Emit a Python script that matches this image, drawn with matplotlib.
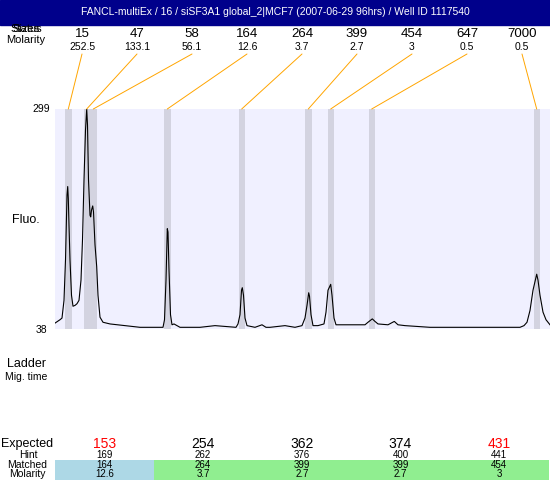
import matplotlib
matplotlib.use("Agg")
import matplotlib.pyplot as plt
from matplotlib.patches import Rectangle, ConnectionPatch

plt.rcParams['font.family'] = ['Liberation Sans', 'DejaVu Sans']

title = "FANCL-multiEx / 16 / siSF3A1 global_2|MCF7 (2007-06-29 96hrs) / Well ID 1117540"

# electropherogram trace (migration units, fluorescence)
trace_time = [0, 5, 7, 9, 10.5, 12, 12.7, 13.3, 14, 15, 16.5, 18, 20, 22, 24, 26, 27.5, 29,
              30.5, 31.7, 32.5, 33.5, 35, 35.7, 36.5, 37.7, 38.5, 40, 41.7, 43, 45, 48, 55,
              70, 85, 108, 109.5, 111, 112.3, 113, 114, 115.5, 117, 119, 125, 145, 160, 181,
              183, 185, 186.5, 187.3, 188.5, 190, 192, 200, 207, 211, 215, 230, 240, 247,
              250, 252, 253.7, 254.5, 256, 258, 263, 269, 271, 273, 275.7, 277, 279, 281,
              295, 310, 313, 317.3, 320, 323, 333, 339.3, 343, 350, 375, 405, 435, 460, 465,
              469, 472, 475, 478, 481.7, 483, 485, 488, 491, 495]
trace_fluo = [45, 49, 51, 72, 120, 197, 207, 193, 161, 120, 78, 65, 66, 68, 72, 96, 144, 215,
              274, 299, 280, 215, 173, 171, 179, 184, 177, 138, 112, 78, 52, 46, 44,
              42, 40, 40, 49, 96, 157, 153, 108, 55, 43, 44, 40, 40, 42, 40,
              44, 55, 84, 87, 78, 51, 42, 40, 43, 40, 40, 42, 40, 42,
              51, 66, 81, 77, 55, 42, 42, 44, 58, 84, 91, 78, 51, 43,
              43, 43, 46, 50, 47, 44, 43, 47, 43, 42, 40, 40, 40, 40, 40,
              42, 46, 60, 84, 103, 96, 78, 58, 49, 43]

# peak table
peak_time = [13.3, 31.7, 38.3, 112.3, 186.7, 253.3, 275.7, 316.7, 481.7]
peak_size = ["15", "47", "58", "164", "264", "399", "454", "647", "7000"]
peak_molarity = ["252.5", "133.1", "56.1", "12.6", "3.7", "2.7", "3", "0.5", "0.5"]

# expected bands table
expected = ["153", "254", "362", "374", "431"]
hint = ["169", "262", "376", "400", "441"]
matched = ["164", "264", "399", "399", "454"]
matched_molarity = ["12.6", "3.7", "2.7", "2.7", "3"]
expected_color = ["red", "black", "black", "black", "red"]
matched_bg = ["#ADD8E6", "#90EE90", "#90EE90", "#90EE90", "#90EE90"]

W, H = 550, 480
fig = plt.figure(figsize=(5.5, 4.8), dpi=100)


def ftext(x, y, s, **kw):
    kw.setdefault("ha", "center")
    kw.setdefault("va", "center")
    fig.text(x / W, 1 - y / H, s, **kw)


# title bar
fig.add_artist(Rectangle((0, 1 - 25 / H), 1, 25 / H, transform=fig.transFigure,
                         color="#00008B", zorder=0))
ftext(275, 12, title, color="white", fontsize=7.5)

# trace
ax = fig.add_axes([55 / W, (H - 329) / H, 495 / W, 220 / H])
ax.set_facecolor("#F0F0FF")
for t in peak_time:
    ax.axvspan(t - 3.2, t + 3.2, color="#D3D3E0", lw=0)
ax.plot(trace_time, trace_fluo, color="black", lw=0.8)
ax.set_xlim(0, 495)
ax.set_ylim(38, 299)
ax.set_xticks([])
ax.set_yticks([])
for s in ax.spines.values():
    s.set_visible(False)

ftext(50, 109, "299", ha="right", fontsize=7.5)
ftext(47, 330, "38", ha="right", fontsize=7.5)
ftext(26, 220, "Fluo.", fontsize=9)

# size/molarity labels above with connectors (Status and Sizes overlap as in the source)
ftext(26, 29, "Status", fontsize=8)
ftext(26, 29, "Sizes", fontsize=8)
ftext(26, 40, "Molarity", fontsize=8)
for i, (t, sz, mol) in enumerate(zip(peak_time, peak_size, peak_molarity)):
    lx = 82 + 55 * i
    ftext(lx, 34, sz, fontsize=9.5)
    ftext(lx, 47, mol, fontsize=7.5)
    con = ConnectionPatch(xyA=(lx / W, 1 - 54 / H), coordsA=fig.transFigure,
                          xyB=(t, 299), coordsB=ax.transData,
                          color="orange", lw=0.7)
    fig.add_artist(con)

ftext(27, 364, "Ladder", fontsize=9)
ftext(26, 377, "Mig. time", fontsize=7.5)

# expected table
ftext(27, 444, "Expected", fontsize=9)
ftext(28, 455, "Hint", fontsize=7.5)
ftext(27, 465, "Matched", fontsize=7.5)
ftext(27, 474, "Molarity", fontsize=7.5)
col_w = 98.7
for i in range(len(expected)):
    cx = 55 + col_w * (i + 0.5)
    fig.add_artist(Rectangle(((55 + col_w * i) / W, 0), col_w / W, 20 / H,
                             transform=fig.transFigure, color=matched_bg[i], lw=0, zorder=0))
    ftext(cx, 444, expected[i], fontsize=10, color=expected_color[i])
    ftext(cx, 455, hint[i], fontsize=7)
    ftext(cx, 465, matched[i], fontsize=7)
    ftext(cx, 474, matched_molarity[i], fontsize=7)

fig.savefig("out.png", dpi=100)
